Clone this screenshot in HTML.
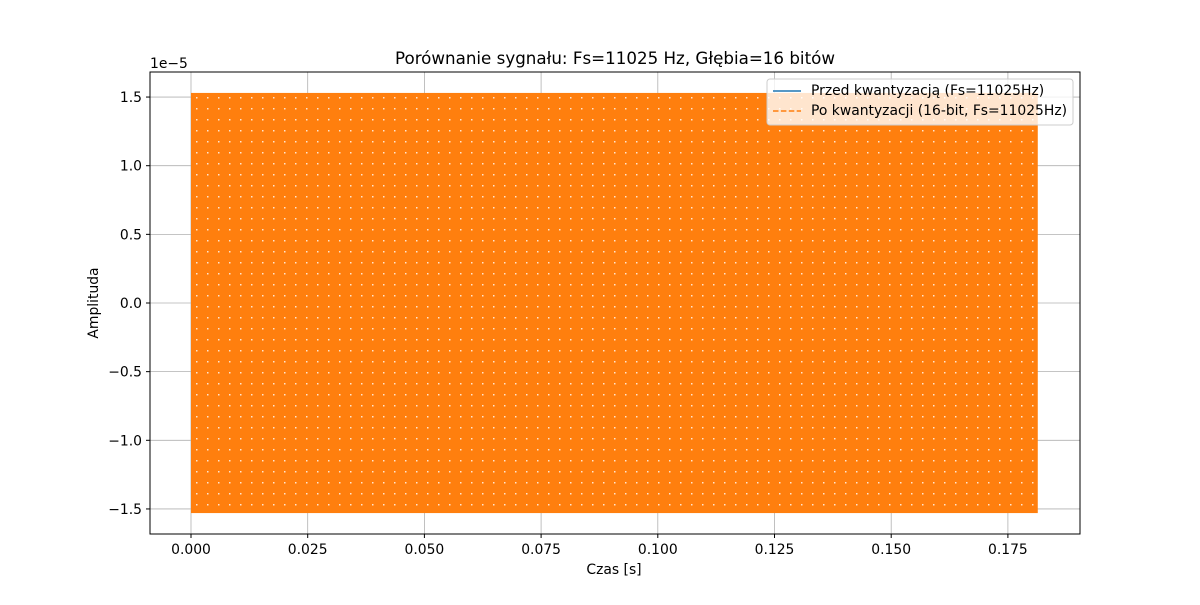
<!DOCTYPE html>
<html><head><meta charset="utf-8"><style>
body{margin:0;background:#fff;}
svg text{font-family:"DejaVu Sans","Liberation Sans",sans-serif;}
</style></head><body>
<svg id="chart" width="1200" height="600" xmlns="http://www.w3.org/2000/svg">
<defs>
<pattern id="dots" x="191" y="92" width="11" height="11" patternUnits="userSpaceOnUse">
<rect x="5" y="5" width="1.5" height="1.5" fill="#fff" opacity="0.8"/>
</pattern>
</defs>
<g id="grid"></g>
<g id="series"></g>
<rect x="150" y="72" width="930" height="462" fill="none" stroke="#000" stroke-width="1"/>
<g id="ticks"></g>
<text x="615" y="64" text-anchor="middle" font-size="16.7">Porównanie sygnału: Fs=11025 Hz, Głębia=16 bitów</text>
<text x="614" y="574" text-anchor="middle" font-size="13.9">Czas [s]</text>
<text x="98" y="303" text-anchor="middle" font-size="13.9" transform="rotate(-90 98 303)">Amplituda</text>
<text x="150" y="68" font-size="13.9">1e−5</text>
<g>
<rect x="767" y="79" width="306" height="46" rx="3" fill="#fff" fill-opacity="0.8" stroke="#ccc"/>
<line x1="773" y1="91" x2="801" y2="91" stroke="#1f77b4" stroke-width="1.5"/>
<text x="811" y="95" font-size="13.9">Przed kwantyzacją (Fs=11025Hz)</text>
<line x1="773" y1="111" x2="801" y2="111" stroke="#ff7f0e" stroke-width="1.5" stroke-dasharray="5.5,2.4"/>
<text x="811" y="115" font-size="13.9">Po kwantyzacji (16-bit, Fs=11025Hz)</text>
</g>
</svg>
<script>
const xTicks=[0,0.025,0.05,0.075,0.1,0.125,0.15,0.175];
const xTickLabels=["0.000","0.025","0.050","0.075","0.100","0.125","0.150","0.175"];
const yTicks=[-1.5,-1.0,-0.5,0.0,0.5,1.0,1.5];
const yTickLabels=["−1.5","−1.0","−0.5","0.0","0.5","1.0","1.5"];
const signalStart=[0];
const signalEnd=[0.1814];
const signalAmplitude=[1.53];
const X=v=>191+v/0.025*116.7;
const Y=v=>303-v*137.3;
const NS="http://www.w3.org/2000/svg";
const grid=document.getElementById('grid'),ticks=document.getElementById('ticks'),series=document.getElementById('series');
function mk(tag,attrs,parent){const e=document.createElementNS(NS,tag);for(const k in attrs)e.setAttribute(k,attrs[k]);parent.appendChild(e);return e;}
xTicks.forEach((t,i)=>{
 const g=mk('line',{x1:X(t),x2:X(t),y1:72,y2:534,stroke:'#b0b0b0','stroke-width':0.8},grid);
 
 
 const tk=mk('line',{x1:X(t),x2:X(t),y1:534,y2:538,stroke:'#000'},ticks);
 
 
 const tx=mk('text',{x:X(t),y:554,'text-anchor':'middle','font-size':13.9},ticks);
 tx.textContent=xTickLabels[i];
 
 
});
yTicks.forEach((t,i)=>{
 const g=mk('line',{x1:150,x2:1080,y1:Y(t),y2:Y(t),stroke:'#b0b0b0','stroke-width':0.8},grid);
 
 
 const tk=mk('line',{x1:146,x2:150,y1:Y(t),y2:Y(t),stroke:'#000'},ticks);
 
 
 const tx=mk('text',{x:142,y:Y(t)+5,'text-anchor':'end','font-size':13.9},ticks);
 tx.textContent=yTickLabels[i];
 
 
});
signalStart.forEach((s,i)=>{
 const x0=X(s),x1=X(signalEnd[i]),y0=Y(signalAmplitude[i]),y1=Y(-signalAmplitude[i]);
 const r=mk('rect',{x:x0,y:y0,width:x1-x0,height:y1-y0,fill:'#ff7f0e'},series);
 
 
 const p=mk('rect',{x:x0,y:y0,width:x1-x0,height:y1-y0,fill:'url(#dots)'},series);
 
 
});
</script>
</body></html>
